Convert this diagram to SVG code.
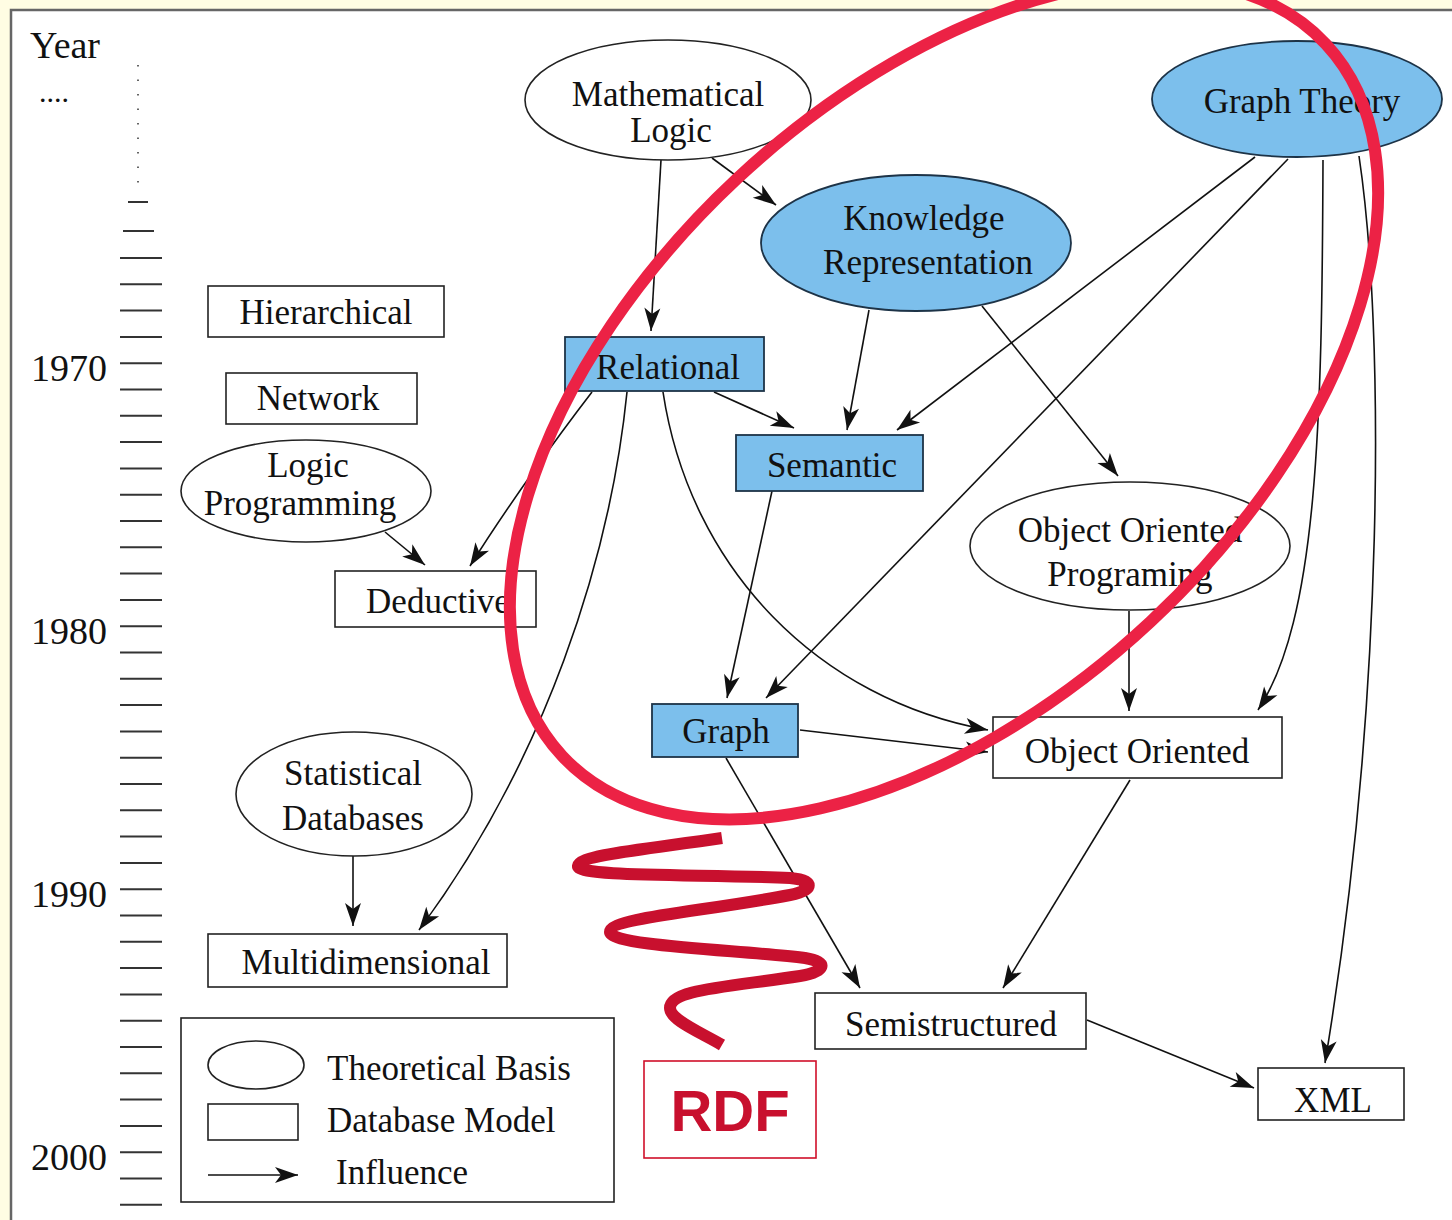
<svg xmlns="http://www.w3.org/2000/svg" width="1452" height="1220" viewBox="0 0 1452 1220">
<style>
.t{font-family:"Liberation Serif","Times New Roman",serif;font-size:35px;fill:#111;text-anchor:middle}
.ts{font-family:"Liberation Serif","Times New Roman",serif;font-size:35px;fill:#111}
.yr{font-family:"Liberation Serif","Times New Roman",serif;font-size:38px;fill:#111;text-anchor:end}
.n{fill:#fff;stroke:#222;stroke-width:1.6}
.b{fill:#7cbfec;stroke:#1d3347;stroke-width:1.8}
.e{fill:none;stroke:#111;stroke-width:1.6;marker-end:url(#ah)}
.tick{stroke:#333;stroke-width:2}
</style>
<defs>
<marker id="ah" markerUnits="userSpaceOnUse" viewBox="-1 -9 26 18" refX="23" refY="0" markerWidth="26" markerHeight="18" orient="auto">
<path d="M0,-8 L23,0 L0,8 L6,0 z" fill="#111"/>
</marker>
</defs>
<rect x="0" y="0" width="1452" height="1220" fill="#fffde3"/>
<rect x="11" y="10" width="1460" height="1230" fill="#fff" stroke="#666" stroke-width="2.5"/>

<g id="timeline">
<text x="30" y="58" class="ts" style="font-size:38px">Year</text>
<text x="39" y="102" class="ts" style="font-size:30px">....</text>
<line x1="138" y1="65" x2="138" y2="184" stroke="#333" stroke-width="1.5" stroke-dasharray="1.5,13"/>
<line x1="128" y1="202" x2="148" y2="202" class="tick"/>
<line x1="123" y1="231" x2="154" y2="231" class="tick"/>
<path class="tick" d="M120,258h42M120,284.3h42M120,310.6h42M120,336.9h42M120,363.2h42M120,389.5h42M120,415.8h42M120,442.1h42M120,468.4h42M120,494.7h42M120,521h42M120,547.3h42M120,573.6h42M120,599.9h42M120,626.2h42M120,652.5h42M120,678.8h42M120,705.1h42M120,731.4h42M120,757.7h42M120,784h42M120,810.3h42M120,836.6h42M120,862.9h42M120,889.2h42M120,915.5h42M120,941.8h42M120,968.1h42M120,994.4h42M120,1020.7h42M120,1047h42M120,1073.3h42M120,1099.6h42M120,1125.9h42M120,1152.2h42M120,1178.5h42M120,1204.8h42"/>
<text x="107" y="381" class="yr">1970</text>
<text x="107" y="644" class="yr">1980</text>
<text x="107" y="907" class="yr">1990</text>
<text x="107" y="1170" class="yr">2000</text>
</g>

<g id="connectors">
<path class="e" d="M661,160 L651,331"/>
<path class="e" d="M712,158 L776,205"/>
<path class="e" d="M869,310 L847,430"/>
<path class="e" d="M982,306 L1118,476"/>
<path class="e" d="M1255,157 L897,430"/>
<path class="e" d="M1288,159 L766,698"/>
<path class="e" d="M1323,160 C1322,420 1318,620 1258,710"/>
<path class="e" d="M1359,156 C1385,330 1385,700 1325,1063"/>
<path class="e" d="M714,392 L794,428"/>
<path class="e" d="M592,392 C555,440 505,510 470,566"/>
<path class="e" d="M627,392 C610,560 545,760 419,930"/>
<path class="e" d="M663,392 C690,570 820,700 988,730"/>
<path class="e" d="M772,491 L727,698"/>
<path class="e" d="M385,532 L425,565"/>
<path class="e" d="M1129,611 L1129,711"/>
<path class="e" d="M800,730 L988,752"/>
<path class="e" d="M726,758 L860,988"/>
<path class="e" d="M1130,780 L1003,988"/>
<path class="e" d="M353,856 L353,926"/>
<path class="e" d="M1087,1020 L1254,1088"/>
</g>

<g id="mathematical-logic"><ellipse cx="668" cy="100" rx="143" ry="60" class="n"/><text x="668" y="106" class="t">Mathematical</text><text x="671" y="142" class="t">Logic</text></g>
<g id="knowledge-representation"><ellipse cx="916" cy="243" rx="155" ry="68" class="b"/><text x="924" y="230" class="t">Knowledge</text><text x="928" y="274" class="t">Representation</text></g>
<g id="graph-theory"><ellipse cx="1297" cy="99" rx="145" ry="58" class="b"/><text x="1302" y="113" class="t">Graph Theory</text></g>
<g id="hierarchical"><rect x="208" y="286" width="236" height="51" class="n"/><text x="326" y="324" class="t">Hierarchical</text></g>
<g id="network"><rect x="226" y="373" width="191" height="51" class="n"/><text x="318" y="410" class="t">Network</text></g>
<g id="logic-programming"><ellipse cx="306" cy="491" rx="125" ry="51" class="n"/><text x="308" y="477" class="t">Logic</text><text x="300" y="515" class="t">Programming</text></g>
<g id="deductive"><rect x="335" y="571" width="201" height="56" class="n"/><text x="438" y="613" class="t">Deductive</text></g>
<g id="relational"><rect x="565" y="337" width="199" height="54" class="b"/><text x="668" y="379" class="t">Relational</text></g>
<g id="semantic"><rect x="736" y="435" width="187" height="56" class="b"/><text x="832" y="477" class="t">Semantic</text></g>
<g id="oop"><ellipse cx="1130" cy="546" rx="160" ry="64" class="n"/><text x="1130" y="542" class="t">Object Oriented</text><text x="1130" y="586" class="t">Programing</text></g>
<g id="graph"><rect x="652" y="704" width="146" height="53" class="b"/><text x="726" y="743" class="t">Graph</text></g>
<g id="object-oriented"><rect x="993" y="717" width="289" height="61" class="n"/><text x="1137" y="763" class="t">Object Oriented</text></g>
<g id="statistical-databases"><ellipse cx="354" cy="794" rx="118" ry="62" class="n"/><text x="353" y="785" class="t">Statistical</text><text x="353" y="830" class="t">Databases</text></g>
<g id="multidimensional"><rect x="208" y="934" width="299" height="53" class="n"/><text x="366" y="974" class="t">Multidimensional</text></g>
<g id="semistructured"><rect x="815" y="993" width="271" height="56" class="n"/><text x="951" y="1036" class="t">Semistructured</text></g>
<g id="xml"><rect x="1258" y="1068" width="146" height="52" class="n"/><text x="1333" y="1112" class="t">XML</text></g>

<g id="legend">
<rect x="181" y="1018" width="433" height="184" class="n"/>
<ellipse cx="256" cy="1065" rx="48" ry="24" class="n"/>
<text x="327" y="1080" class="ts">Theoretical Basis</text>
<rect x="208" y="1104" width="90" height="36" class="n"/>
<text x="327" y="1132" class="ts">Database Model</text>
<path class="e" d="M208,1175 L298,1175"/>
<text x="336" y="1184" class="ts">Influence</text>
</g>

<g id="red-ellipse"><ellipse cx="944" cy="400" rx="522" ry="303" transform="rotate(-43 944 400)" fill="none" stroke="#ec2245" stroke-width="12"/></g>
<g id="squiggle"><path d="M722,838 C640,850 580,855 578,866 C576,877 700,874 790,878 C815,880 815,890 790,895 C700,912 610,918 610,932 C610,946 740,950 805,958 C830,962 825,972 800,976 C720,988 670,990 670,1008 C670,1020 700,1032 722,1045" fill="none" stroke="#c8102e" stroke-width="12"/></g>
<g id="rdf"><rect x="644" y="1061" width="172" height="97" fill="#fff" stroke="#d0102a" stroke-width="1.6"/><text x="730" y="1131" text-anchor="middle" style="font-family:'Liberation Sans',Arial,sans-serif;font-weight:bold;font-size:58px;fill:#c8102e">RDF</text></g>
</svg>
